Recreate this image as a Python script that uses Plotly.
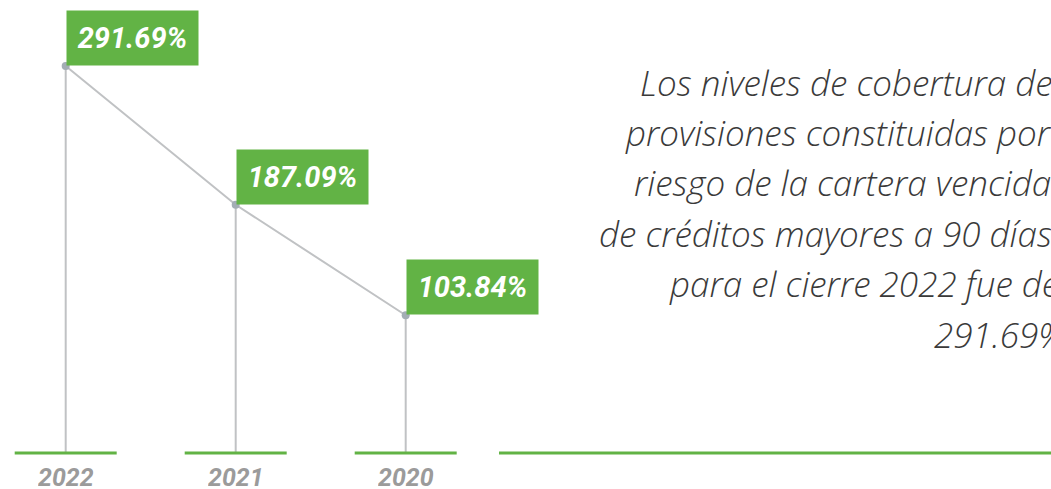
import plotly.graph_objects as go

years = ["2022", "2021", "2020"]
values = [291.69, 187.09, 103.84]
value_labels = [f"{v:.2f}%" for v in values]

text_lines = [
    "Los niveles de cobertura de las",
    "provisiones constituidas por el",
    "riesgo de la cartera vencida",
    "de créditos mayores a 90 días",
    "para el cierre 2022 fue de",
    "291.69%.",
]
text_starts = [638, 623, 632, 597, 667, 932]

W, H = 1051, 489
GREEN = "#62b345"
LINE_GRAY = "#c0c2c4"
MARK = "#a3adb5"

fig = go.Figure()

# stems from baseline to each value
sx, sy = [], []
for yr, v in zip(years, values):
    sx += [yr, yr, None]
    sy += [0, v, None]
fig.add_trace(go.Scatter(x=sx, y=sy, mode="lines",
                         line=dict(color=LINE_GRAY, width=2),
                         hoverinfo="skip", showlegend=False))

# connecting line with markers
fig.add_trace(go.Scatter(x=years, y=values, mode="lines+markers",
                         line=dict(color=LINE_GRAY, width=2),
                         marker=dict(color=MARK, size=8),
                         showlegend=False))

shapes = []
for i, yr in enumerate(years):
    shapes.append(dict(type="line", xref="x", yref="y",
                       x0=i - 0.3, x1=i + 0.3, y0=0, y1=0,
                       line=dict(color=GREEN, width=3)))
shapes.append(dict(type="line", xref="paper", yref="y",
                   x0=499 / W, x1=1, y0=0, y1=0,
                   line=dict(color=GREEN, width=3)))

annotations = []
for i, (yr, v, lab) in enumerate(zip(years, values, value_labels)):
    annotations.append(dict(
        x=i, y=v, xref="x", yref="y", text=f"<b><i>{lab}</i></b>",
        showarrow=False, xanchor="left", yanchor="bottom", yshift=0,
        width=131, height=54, bgcolor=GREEN, borderpad=0,
        font=dict(family="Roboto", size=29, color="white"),
    ))
    annotations.append(dict(
        x=i, y=0, xref="x", yref="y", text=f"<b><i>{yr}</i></b>",
        showarrow=False, xanchor="center", yanchor="middle", yshift=-24,
        height=24, borderpad=0,
        font=dict(family="Roboto", size=25, color="#9b9b9b"),
    ))

for k, (line, x0) in enumerate(zip(text_lines, text_starts)):
    cy = 82 + 50.4 * k
    annotations.append(dict(
        x=x0 / W, y=1 - cy / H, xref="paper", yref="paper",
        text=line, showarrow=False, xanchor="left", yanchor="middle",
        font=dict(family="Open Sans", size=35, color="#3a3a3a",
                  weight=300, style="italic"),
    ))

# axis ranges chosen so baseline sits near y=453px and points line up
px_per_unit = (453 - 66) / values[0]
y_top = values[0] + 66 / px_per_unit
y_bot = -(H - 453) / px_per_unit
x_a = -65.7 / 170
x_b = x_a + W / 170

fig.update_layout(
    width=W, height=H,
    margin=dict(l=0, r=0, t=0, b=0),
    paper_bgcolor="white", plot_bgcolor="white",
    xaxis=dict(type="category", range=[x_a, x_b], visible=False,
               categoryorder="array", categoryarray=years),
    yaxis=dict(range=[y_bot, y_top], visible=False),
    shapes=shapes, annotations=annotations,
    showlegend=False,
)

fig.write_html(
    "out.html",
    config={"displayModeBar": False},
    post_script="document.body.style.margin='0';document.body.style.overflow='hidden';",
)
